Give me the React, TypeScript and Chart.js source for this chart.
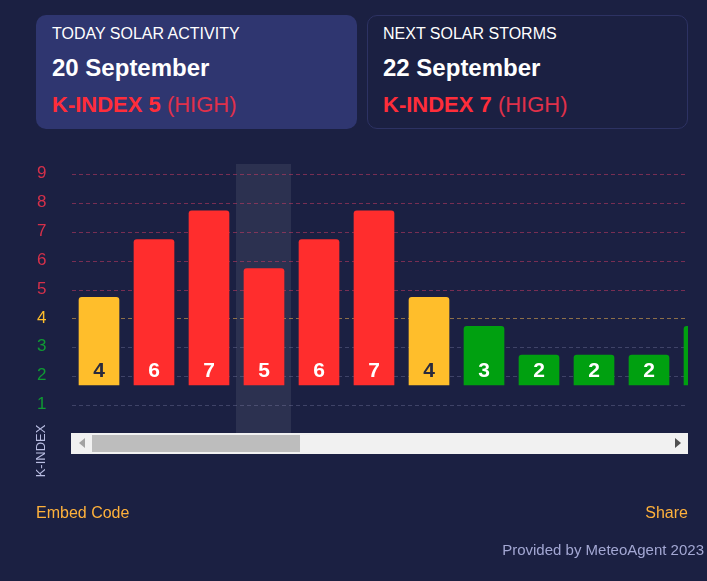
import { useEffect, useRef } from "react"
import { Chart, registerables } from "chart.js"

Chart.register(...registerables)

const days = ["17 Sep", "18 Sep", "19 Sep", "20 Sep", "21 Sep", "22 Sep", "23 Sep", "24 Sep", "25 Sep", "26 Sep", "27 Sep", "28 Sep"]
const kIndex = [4, 6, 7, 5, 6, 7, 4, 3, 2, 2, 2, 3]
const axisValues = [1, 2, 3, 4, 5, 6, 7, 8, 9]
const todayLabel = "20 Sep"

const FONT = '"Liberation Sans", Arial, sans-serif'
const BG = "#1b2042"

function barColor(v: number) {
  if (v >= 5) return "#ff2d2d"
  if (v === 4) return "#ffbe2b"
  return "#00a010"
}

function tickColor(v: number) {
  if (v >= 5) return "#d5304a"
  if (v === 4) return "#ffbe2b"
  return "#0f9a33"
}

function gridColor(v: number) {
  if (v >= 5) return "rgba(214, 60, 100, 0.5)"
  if (v === 4) return "rgba(255, 190, 80, 0.5)"
  return "rgba(150, 150, 190, 0.3)"
}

// highlight band behind the current day
const todayBand = {
  id: "todayBand",
  beforeDraw(chart: any) {
    const { ctx, chartArea, scales } = chart
    const cx = scales.x.getPixelForValue(days.indexOf(todayLabel))
    ctx.save()
    ctx.fillStyle = "rgba(255, 255, 255, 0.08)"
    ctx.fillRect(cx - 28, chartArea.top, 55, chartArea.bottom - chartArea.top)
    ctx.restore()
  },
}

// k-index number at the foot of every bar
const barNumbers = {
  id: "barNumbers",
  afterDatasetsDraw(chart: any) {
    const { ctx } = chart
    const meta = chart.getDatasetMeta(0)
    ctx.save()
    ctx.font = `bold 21px ${FONT}`
    ctx.textAlign = "center"
    ctx.textBaseline = "middle"
    meta.data.forEach((bar: any, i: number) => {
      ctx.fillStyle = kIndex[i] === 4 ? "#2a2a3c" : "#ffffff"
      ctx.fillText(String(kIndex[i]), bar.x, bar.base - 13.5)
    })
    ctx.restore()
  },
}

function KChart() {
  const chartRef = useRef<HTMLCanvasElement>(null)

  useEffect(() => {
    if (!chartRef.current) return
    const chart = new Chart(chartRef.current, {
      type: "bar",
      data: {
        labels: days,
        datasets: [
          {
            data: kIndex,
            yAxisID: "bars",
            base: 0.965,
            backgroundColor: kIndex.map(barColor),
            barThickness: 40,
            borderRadius: { topLeft: 3, topRight: 3, bottomLeft: 0, bottomRight: 0 },
            borderSkipped: false,
          },
        ],
      },
      options: {
        animation: false,
        responsive: false,
        events: [],
        layout: { autoPadding: false, padding: { top: 164, bottom: 148, left: 0, right: 0.5 } },
        plugins: { legend: { display: false }, tooltip: { enabled: false } },
        scales: {
          x: {
            offset: true,
            border: { display: false },
            grid: { display: false, drawTicks: false },
            afterFit: (s: any) => {
              s.height = 0
            },
            ticks: {
              autoSkip: false,
              maxRotation: 0,
              minRotation: 0,
              padding: -30,
              color: "#ffffff",
              font: { family: FONT, size: 14 },
            },
          },
          y: {
            position: "left",
            min: 0.048,
            max: 9.364,
            border: { display: false, dash: [4, 3] },
            afterFit: (s: any) => {
              s.width = 71.5
            },
            afterBuildTicks: (s: any) => {
              s.ticks = axisValues.map((value) => ({ value }))
            },
            grid: {
              drawTicks: false,
              color: (c: any) => gridColor(c.tick.value),
              lineWidth: 1,
            },
            ticks: {
              autoSkip: false,
              padding: 25,
              labelOffset: -1,
              color: (c: any) => tickColor(c.tick.value),
              font: { family: FONT, size: 17 },
              callback: (v: any) => String(v),
            },
          },
          bars: { display: false, position: "left", min: -0.697, max: 8.619 },
        },
      },
      plugins: [todayBand, barNumbers],
    } as any)
    return () => chart.destroy()
  }, [])

  return <canvas ref={chartRef} width={732} height={581} style={{ display: "block" }} />
}

function Card(props: { x: number; active?: boolean; title: string; date: string; level: string }) {
  const { x, active, title, date, level } = props
  return (
    <div
      style={{
        position: "absolute",
        left: x,
        top: 15,
        width: 321,
        height: 114,
        boxSizing: "border-box",
        borderRadius: 10,
        background: active ? "#2f3670" : BG,
        border: active ? "none" : "1px solid #2d3263",
      }}
    >
      <div style={{ position: "absolute", left: active ? 16 : 15, top: active ? 9 : 8, fontSize: 16, color: "#fff", lineHeight: "20px" }}>{title}</div>
      <div style={{ position: "absolute", left: active ? 16 : 15, top: active ? 39 : 38, fontSize: 24, fontWeight: 700, color: "#fff", lineHeight: "28px" }}>{date}</div>
      <div style={{ position: "absolute", left: active ? 16 : 15, top: active ? 76 : 75, fontSize: 22, color: "#e0304a", lineHeight: "28px" }}>
        <b style={{ color: "#ff2d3a" }}>{level}</b> (HIGH)
      </div>
    </div>
  )
}

export default function App() {
  return (
    <div style={{ position: "absolute", left: 0, top: 0, width: 707, height: 581, overflow: "hidden", background: BG, fontFamily: FONT }}>
      <Card x={36} active title="TODAY SOLAR ACTIVITY" date="20 September" level="K-INDEX 5" />
      <Card x={367} title="NEXT SOLAR STORMS" date="22 September" level="K-INDEX 7" />

      <div style={{ position: "absolute", left: 0, top: 0, width: 688, height: 581, overflow: "hidden" }}>
        <KChart />
      </div>

      <div style={{ position: "absolute", left: 71, top: 433, width: 617, height: 21, background: "#f1f1f1" }}>
        <div style={{ position: "absolute", left: 21, top: 2, width: 208, height: 17, background: "#bdbdbd" }} />
        <div style={{ position: "absolute", left: 8, top: 5, width: 0, height: 0, borderTop: "5px solid transparent", borderBottom: "5px solid transparent", borderRight: "6px solid #a3a3a3" }} />
        <div style={{ position: "absolute", left: 604, top: 5, width: 0, height: 0, borderTop: "5px solid transparent", borderBottom: "5px solid transparent", borderLeft: "6px solid #505050" }} />
      </div>

      <div style={{ position: "absolute", left: 41, top: 451, fontSize: 13, lineHeight: "14px", color: "#b9bde2", whiteSpace: "nowrap", transform: "translate(-50%, -50%) rotate(-90deg)" }}>K-INDEX</div>

      <div style={{ position: "absolute", left: 36, top: 503, fontSize: 16, lineHeight: "20px", color: "#ffb13b" }}>Embed Code</div>
      <div style={{ position: "absolute", right: 19, top: 503, fontSize: 16, lineHeight: "20px", color: "#ffb13b" }}>Share</div>
      <div style={{ position: "absolute", right: 3, top: 541, fontSize: 15, lineHeight: "18px", color: "#a3a7d3" }}>Provided by MeteoAgent 2023</div>
    </div>
  )
}
